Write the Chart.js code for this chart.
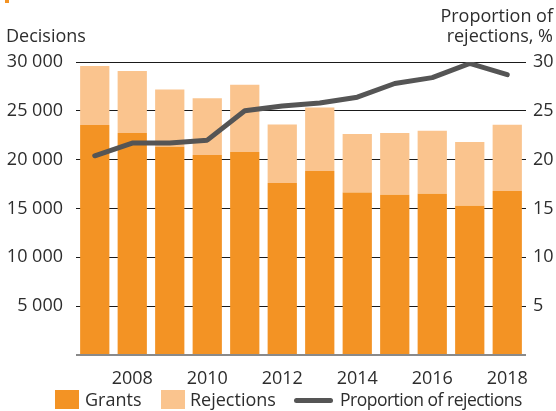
<!DOCTYPE html>
<html>
<head>
<meta charset="utf-8">
<script src="https://cdn.jsdelivr.net/npm/chart.js@4"></script>
<style>
    body { margin: 0; background: #fff; }
    #wrap { position: relative; width: 556px; height: 411px; font-family: 'Open Sans', sans-serif; color: #2d2d2d; }
    #chart { position: absolute; left: 0; top: 0; }
    .txt { position: absolute; font-size: 18px; line-height: 20px; white-space: nowrap; }
    .box { position: absolute; width: 24px; height: 19px; }
    .dash { position: absolute; height: 5px; border-radius: 3px; background: #555; }
</style>
</head>
<body>
<div id="wrap">
    <canvas id="chart" width="556" height="411"></canvas>
    <div class="box" style="left:5px;top:-16px;width:4px;background:#F39324;"></div>
    <div class="txt" style="left:6px;top:25px;">Decisions</div>
    <div class="txt" style="right:3px;top:5px;text-align:right;">Proportion of<br>rejections, %</div>
    <div class="box" style="left:55px;top:390px;background:#F39324;"></div>
    <div class="txt" style="left:85px;top:389px;">Grants</div>
    <div class="box" style="left:161px;top:390px;background:#FAC48E;"></div>
    <div class="txt" style="left:190px;top:389px;">Rejections</div>
    <div class="dash" style="left:294px;top:398px;width:39px;"></div>
    <div class="txt" style="left:340px;top:389px;font-size:17.5px;letter-spacing:-0.5px;">Proportion of rejections</div>
</div>
<script>
const years = ['2007', '2008', '2009', '2010', '2011', '2012', '2013', '2014', '2015', '2016', '2017', '2018'];
const grants = [23540, 22720, 21320, 20470, 20780, 17600, 18830, 16650, 16410, 16510, 15280, 16790];
const rejections = [6040, 6350, 5870, 5830, 6890, 6010, 6510, 5970, 6310, 6450, 6520, 6790];
const rejectionShare = [20.4, 21.7, 21.7, 22.0, 25.0, 25.5, 25.8, 26.4, 27.8, 28.4, 29.85, 28.7];

const tickFont = { family: 'Open Sans', size: 18 };
const tickColor = '#2d2d2d';

function spaced(v) {
    return String(v).replace(/\B(?=(\d{3})+(?!\d))/g, ' ');
}

const ctx = document.getElementById('chart').getContext('2d');
new Chart(ctx, {
    type: 'bar',
    data: {
        labels: years,
        datasets: [
            {
                type: 'line',
                label: 'Proportion of rejections',
                data: rejectionShare,
                yAxisID: 'y1',
                borderColor: '#555',
                borderWidth: 5,
                borderCapStyle: 'round',
                borderJoinStyle: 'round',
                pointRadius: 0,
                tension: 0,
                order: 0
            },
            {
                label: 'Grants',
                data: grants,
                backgroundColor: '#F39324',
                barPercentage: 0.78,
                categoryPercentage: 1,
                order: 1
            },
            {
                label: 'Rejections',
                data: rejections,
                backgroundColor: '#FAC48E',
                barPercentage: 0.78,
                categoryPercentage: 1,
                order: 1
            }
        ]
    },
    options: {
        responsive: false,
        animation: false,
        layout: { padding: { top: 62, left: 0, right: 0, bottom: 0 } },
        plugins: {
            legend: { display: false },
            tooltip: { enabled: false }
        },
        scales: {
            x: {
                stacked: true,
                grid: { display: false },
                border: { display: false },
                ticks: {
                    autoSkip: false,
                    maxRotation: 0,
                    padding: 5,
                    color: tickColor,
                    font: tickFont,
                    callback: (v, i) => (i % 2 === 1 ? years[i] : '')
                },
                afterFit: scale => { scale.height = 56; }
            },
            y: {
                stacked: true,
                min: 0,
                max: 30000,
                border: { display: false },
                grid: {
                    drawTicks: false,
                    color: c => (c.tick.value === 0 ? '#8a8a8a' : c.tick.value % 5000 === 0 ? '#1a1a1a' : '#8a8a8a'),
                    lineWidth: c => (c.tick.value === 0 ? 2 : c.tick.value % 5000 === 0 ? 1 : 1.6)
                },
                ticks: {
                    stepSize: 2500,
                    padding: 13,
                    color: tickColor,
                    font: tickFont,
                    callback: v => (v !== 0 && v % 5000 === 0 ? spaced(v) : '')
                },
                afterFit: scale => { scale.width = 76; }
            },
            y1: {
                position: 'right',
                min: 0,
                max: 30,
                border: { display: false },
                grid: { display: false, drawTicks: false },
                ticks: {
                    stepSize: 2.5,
                    padding: 7,
                    color: tickColor,
                    font: tickFont,
                    callback: v => (v !== 0 && v % 5 === 0 ? v : '')
                },
                afterFit: scale => { scale.width = 30; }
            }
        }
    }
});
</script>
</body>
</html>
